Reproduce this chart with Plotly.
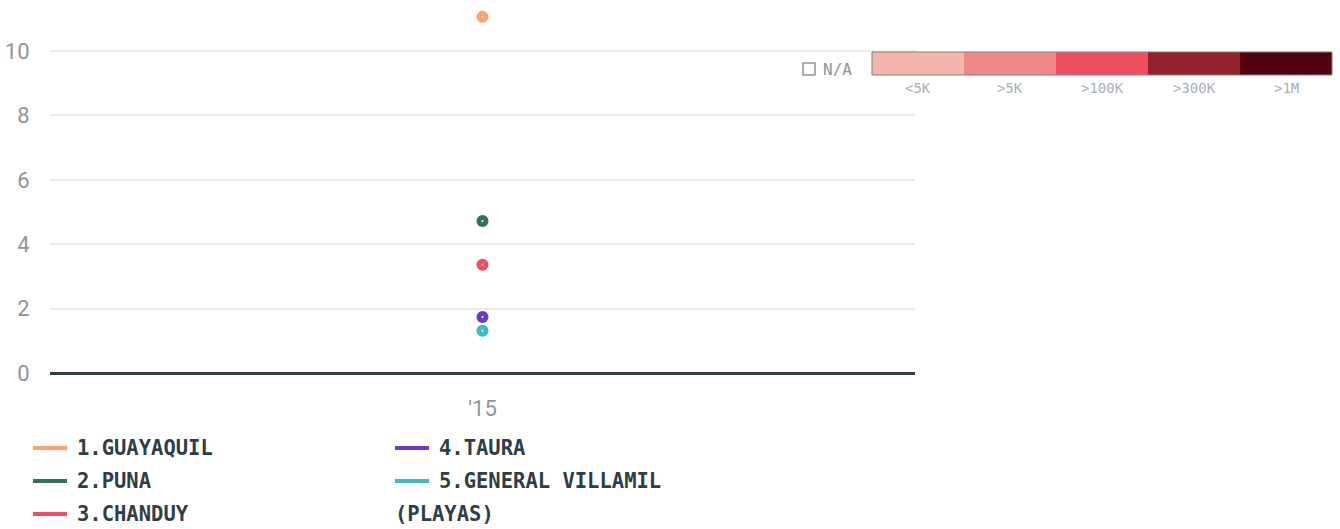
import plotly.graph_objects as go

# ---- data ----
years = ["'15"]
series_names = ["1.GUAYAQUIL", "2.PUNA", "3.CHANDUY", "4.TAURA", "5.GENERAL VILLAMIL<br>(PLAYAS)"]
series_values = [[11.06], [4.72], [3.36], [1.74], [1.31]]
series_colors = ["#ffa26f", "#2e7358", "#f04d64", "#6a3bc6", "#3dbcbf"]
y_ticks = [0, 2, 4, 6, 8, 10]
scale_labels = ["<5K", ">5K", ">100K", ">300K", ">1M"]
scale_colors = ["#f4b6ac", "#f08889", "#f04f61", "#95202f", "#52000b"]

W, H = 1340, 529
L, R, T, B = 50, 915, 5, 373  # plot area in px
ymax = (B - T) / ((B - 51) / 10.0)

def px(x):
    return (x - L) / (R - L)

def py(y):
    return (B - y) / (B - T)

fig = go.Figure()
for name, vals, col in zip(series_names, series_values, series_colors):
    fig.add_trace(go.Scatter(
        x=years, y=vals, mode="lines+markers", name=name,
        line=dict(color=col, width=3),
        marker=dict(color=col, size=12, line=dict(width=0)),
        showlegend=False, hoverinfo="y+name"))
    fig.add_trace(go.Scatter(
        x=years, y=vals, mode="markers",
        marker=dict(color="white", size=2),
        showlegend=False, hoverinfo="skip"))

shapes = []
annotations = []

# custom legend (column-major, 3 rows)
leg_font = dict(family="DejaVu Sans Mono", size=20.5, color="#2f3d45")
rows_y = [448, 481, 514]
col_x = [33, 395]
for i, (name, col) in enumerate(zip(series_names, series_colors)):
    c, r = divmod(i, 3)
    x0 = col_x[c]
    yy = rows_y[r]
    shapes.append(dict(type="line", xref="paper", yref="paper",
                       x0=px(x0), x1=px(x0 + 34), y0=py(yy), y1=py(yy),
                       line=dict(color=col, width=4)))
    parts = name.split("<br>")
    annotations.append(dict(xref="paper", yref="paper", x=px(x0 + 42), y=py(yy),
                            text="<b>" + parts[0] + "</b>", showarrow=False,
                            xanchor="left", yanchor="middle", font=leg_font))
    for k, extra in enumerate(parts[1:], start=1):
        annotations.append(dict(xref="paper", yref="paper", x=px(x0 - 2),
                                y=py(rows_y[r + k]),
                                text="<b>" + extra + "</b>", showarrow=False,
                                xanchor="left", yanchor="middle", font=leg_font))

# colour scale legend
sx0, sx1, sy0, sy1 = 872, 1332, 52, 75
seg = (sx1 - sx0) / len(scale_colors)
for i, (lab, col) in enumerate(zip(scale_labels, scale_colors)):
    a = sx0 + i * seg
    shapes.append(dict(type="rect", xref="paper", yref="paper",
                       x0=px(a), x1=px(a + seg), y0=py(sy1), y1=py(sy0),
                       fillcolor=col, line=dict(width=0)))
    annotations.append(dict(xref="paper", yref="paper", x=px(a + seg / 2), y=py(88),
                            text=lab, showarrow=False, xanchor="center", yanchor="middle",
                            font=dict(family="DejaVu Sans Mono", size=14, color="#a9afb4")))
shapes.append(dict(type="rect", xref="paper", yref="paper",
                   x0=px(sx0), x1=px(sx1), y0=py(sy1), y1=py(sy0),
                   line=dict(color="#7c8288", width=1), fillcolor="rgba(0,0,0,0)"))
# N/A box
shapes.append(dict(type="rect", xref="paper", yref="paper",
                   x0=px(803), x1=px(815), y0=py(75), y1=py(63),
                   line=dict(color="#8c949a", width=1.5), fillcolor="white"))
annotations.append(dict(xref="paper", yref="paper", x=px(821), y=py(69),
                        text="N/A", showarrow=False, xanchor="left", yanchor="middle",
                        font=dict(family="DejaVu Sans Mono", size=16, color="#8c949a")))

fig.update_layout(
    width=W, height=H,
    margin=dict(l=L, r=W - R, t=T, b=H - B),
    paper_bgcolor="white", plot_bgcolor="white",
    shapes=shapes, annotations=annotations,
    showlegend=False,
    xaxis=dict(type="category", showgrid=False, zeroline=False, showline=False,
               ticks="outside", ticklen=16, tickcolor="rgba(0,0,0,0)",
               tickfont=dict(family="Roboto", size=22, color="#8d959c"),
               fixedrange=True),
    yaxis=dict(range=[0, ymax], tickvals=y_ticks, showgrid=True,
               gridcolor="#ebebeb", gridwidth=1.5,
               zeroline=True, zerolinecolor="#2f3d45", zerolinewidth=3,
               showline=False, ticks="outside", ticklen=15,
               tickcolor="rgba(0,0,0,0)",
               tickfont=dict(family="Roboto", size=22, color="#8d959c"),
               fixedrange=True),
)

fig.write_html("out.html", config={"displayModeBar": False},
               post_script="document.body.style.margin='0';document.body.style.overflow='hidden';")
